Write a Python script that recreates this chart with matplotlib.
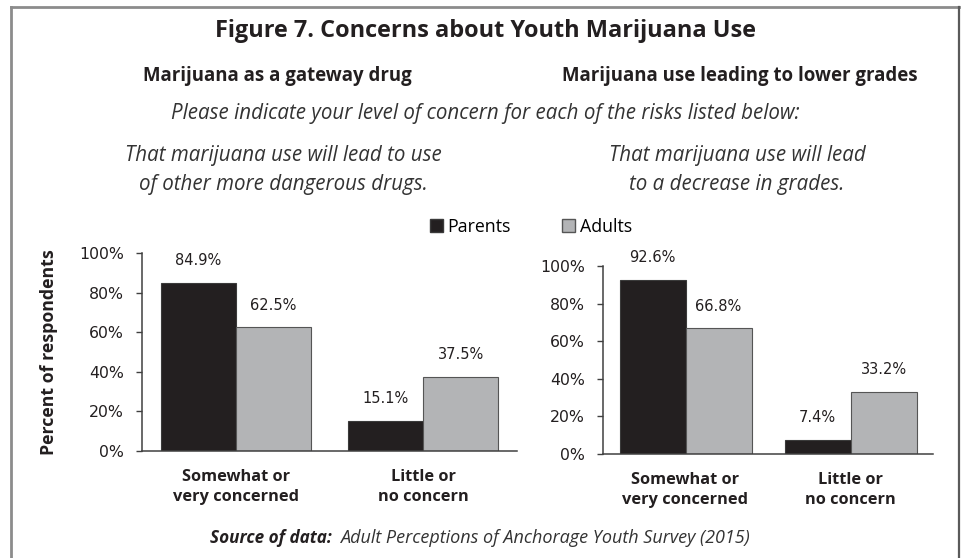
import matplotlib
matplotlib.use("Agg")
import matplotlib.pyplot as plt
from matplotlib.lines import Line2D
from matplotlib.patches import Patch

# survey results (percent of respondents)
categories = ["Somewhat or\nvery concerned", "Little or\nno concern"]
gateway_parents = [84.9, 15.1]
gateway_adults = [62.5, 37.5]
grades_parents = [92.6, 7.4]
grades_adults = [66.8, 33.2]
yticks = [0, 20, 40, 60, 80, 100]
ytick_labels = ["0%", "20%", "40%", "60%", "80%", "100%"]

W, H = 963, 558
BLACK = "#231f20"
GREY = "#b3b4b6"
TEXT = "#231f20"
NUMS = "DejaVu Sans"

plt.rcParams["font.family"] = ["Open Sans", "DejaVu Sans"]

fig = plt.figure(figsize=(W / 100, H / 100), dpi=100)
fig.patch.set_facecolor("white")


def fx(x):
    return x / W


def fy(y):
    return 1 - y / H


def box(x0, x1, y_top, y_bottom):
    return [fx(x0), fy(y_bottom), (x1 - x0) / W, (y_bottom - y_top) / H]


def draw_panel(ax, parents, adults):
    x = range(len(categories))
    w = 0.4
    b1 = ax.bar([i - w / 2 for i in x], parents, width=w, color=BLACK,
                edgecolor="#3a3a3a", linewidth=0.8)
    b2 = ax.bar([i + w / 2 for i in x], adults, width=w, color=GREY,
                edgecolor="#555555", linewidth=0.8)
    for bars, vals in ((b1, parents), (b2, adults)):
        for r, v in zip(bars, vals):
            ax.annotate(f"{v:.1f}%", (r.get_x() + r.get_width() / 2, v),
                        xytext=(0, 16), textcoords="offset points",
                        ha="center", va="center", fontsize=10.5,
                        family=NUMS, color=TEXT)
    ax.set_xlim(-0.5, len(categories) - 0.5)
    ax.set_ylim(0, 100)
    ax.set_yticks(yticks)
    ax.set_yticklabels(ytick_labels, fontsize=11.3, family=NUMS, color=TEXT)
    ax.set_xticks(list(x))
    ax.set_xticklabels(categories, fontsize=11.8, fontweight="bold",
                       color=TEXT, linespacing=1.3)
    ax.tick_params(axis="x", length=0, pad=13)
    ax.tick_params(axis="y", length=4, width=1, color="#404040", pad=9,
                   direction="out")
    for s in ("top", "right"):
        ax.spines[s].set_visible(False)
    for s in ("left", "bottom"):
        ax.spines[s].set_color("#404040")
        ax.spines[s].set_linewidth(1.1)
    ax.set_facecolor("none")
    return b1, b2


ax1 = fig.add_axes(box(142, 517, 253, 451))
draw_panel(ax1, gateway_parents, gateway_adults)
ax1.set_ylabel("Percent of respondents", fontsize=12.8, fontweight="bold",
               color=TEXT)
ax1.yaxis.set_label_coords((58 - 142) / 375, 0.5)

ax2 = fig.add_axes(box(603, 933, 266, 454))
draw_panel(ax2, grades_parents, grades_adults)

# headings
fig.text(fx(485), fy(31), "Figure 7. Concerns about Youth Marijuana Use",
         ha="center", va="center", fontsize=16.9, fontweight="bold", color=TEXT)
fig.text(fx(277), fy(76), "Marijuana as a gateway drug", ha="center",
         va="center", fontsize=13.4, fontweight="bold", color=TEXT)
fig.text(fx(740), fy(76), "Marijuana use leading to lower grades",
         ha="center", va="center", fontsize=13.4, fontweight="bold", color=TEXT)
fig.text(fx(485), fy(114),
         "Please indicate your level of concern for each of the risks listed below:",
         ha="center", va="center", fontsize=14.8, style="italic", color="#333333")
fig.text(fx(283), fy(170),
         "That marijuana use will lead to use\nof other more dangerous drugs.",
         ha="center", va="center", fontsize=14.8, style="italic",
         color="#333333", linespacing=1.45)
fig.text(fx(737), fy(170),
         "That marijuana use will lead\nto a decrease in grades.",
         ha="center", va="center", fontsize=14.8, style="italic",
         color="#333333", linespacing=1.45)

# legend
fig.legend([Patch(facecolor=BLACK, edgecolor="#3a3a3a"),
            Patch(facecolor=GREY, edgecolor="#555555")],
           ["Parents", "Adults"], loc="center",
           bbox_to_anchor=(fx(531), fy(227)), ncol=2, frameon=False,
           fontsize=12.8, handlelength=0.72, handleheight=0.72,
           handletextpad=0.25, columnspacing=2.9)

# source line
src_y = fy(538)
t1 = fig.text(fx(210), src_y, "Source of data:", ha="left", va="center",
              fontsize=12.3, fontweight="bold", style="italic", color=TEXT)
fig.canvas.draw()
bb = t1.get_window_extent()
fig.text(fx(bb.x1 + 8), src_y,
         "Adult Perceptions of Anchorage Youth Survey (2015)", ha="left",
         va="center", fontsize=13, style="italic", color="#333333")

# frame around the figure
frame = "#8c8c8c"
fig.add_artist(Line2D([fx(11), fx(11)], [fy(7), 0], color=frame, lw=2))
fig.add_artist(Line2D([fx(11), fx(959)], [fy(7), fy(7)], color=frame, lw=2))
fig.add_artist(Line2D([fx(959), fx(959)], [fy(7), 0], color="#5a5a5a", lw=1.6))

fig.savefig("out.png", dpi=100, facecolor="white")
